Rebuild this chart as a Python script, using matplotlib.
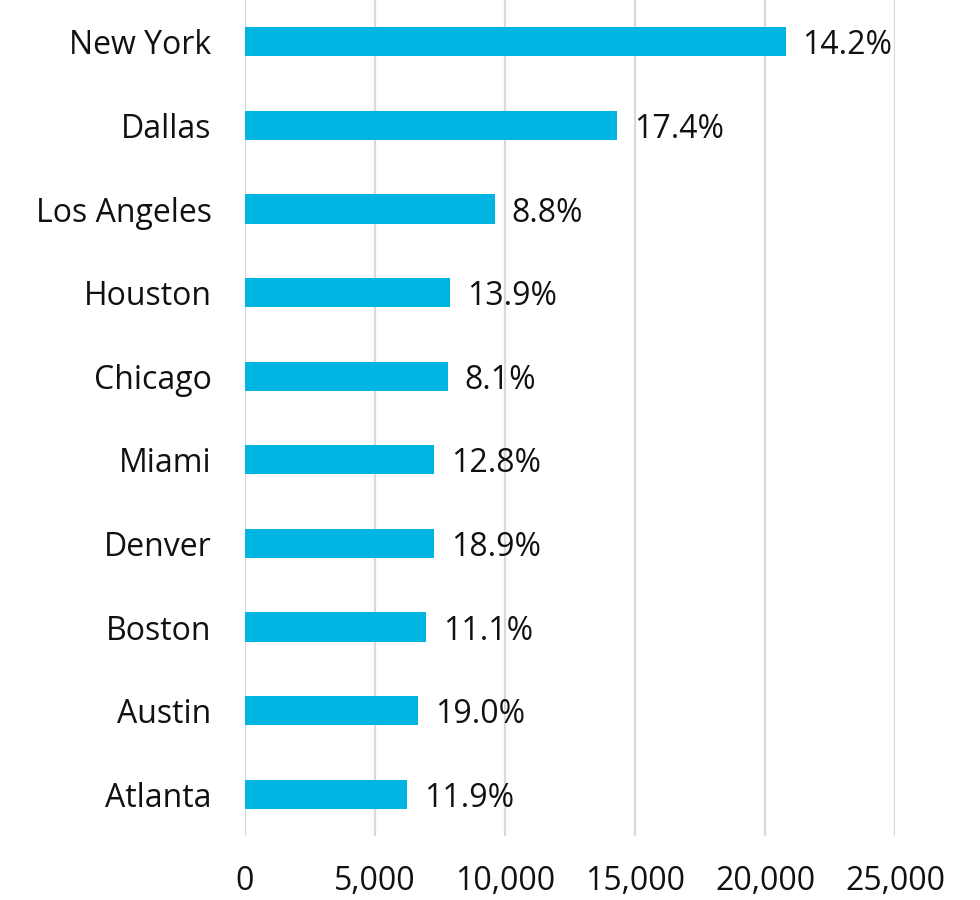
import numpy as np
import matplotlib
matplotlib.use("Agg")
from matplotlib import pyplot as plt
from matplotlib.ticker import FuncFormatter

cities = ["New York", "Dallas", "Los Angeles", "Houston", "Chicago",
          "Miami", "Denver", "Boston", "Austin", "Atlanta"]
values = [20790, 14300, 9610, 7900, 7790, 7280, 7260, 6970, 6640, 6220]
growth = ["14.2%", "17.4%", "8.8%", "13.9%", "8.1%",
          "12.8%", "18.9%", "11.1%", "19.0%", "11.9%"]
xticks = [0, 5000, 10000, 15000, 20000, 25000]

plt.rcParams['font.family'] = ['Open Sans', 'DejaVu Sans']

fig = plt.figure(figsize=(9.8, 9), dpi=100)
ax = fig.add_axes([245 / 980, 1 - 836 / 900, (895 - 245) / 980, 836 / 900])

ypos = np.arange(len(cities))
bars = ax.barh(ypos, values, height=0.35, color="#00B5E2", zorder=3)

# growth labels just past the bar ends
for b, lab in zip(bars, growth):
    ax.annotate(lab, (b.get_width(), b.get_y() + b.get_height() / 2),
                xytext=(17, -4), textcoords="offset pixels",
                ha="left", va="center", fontsize=23, color="#111111")

ax.set_yticks(ypos)
ax.set_yticklabels(cities)
ax.set_ylim(len(cities) - 0.5, -0.5)
ax.set_xlim(0, 25000)
ax.set_xticks(xticks)
ax.xaxis.set_major_formatter(FuncFormatter(lambda v, p: f"{int(v):,}"))

ax.grid(axis="x", color="#D9D9D9", linewidth=1.6, zorder=0)
for s in ax.spines.values():
    s.set_visible(False)
ax.tick_params(axis="both", length=0, labelsize=23, colors="#111111")
ax.tick_params(axis="x", pad=21)
ax.tick_params(axis="y", pad=24)

fig.savefig("out.png", dpi=100)
